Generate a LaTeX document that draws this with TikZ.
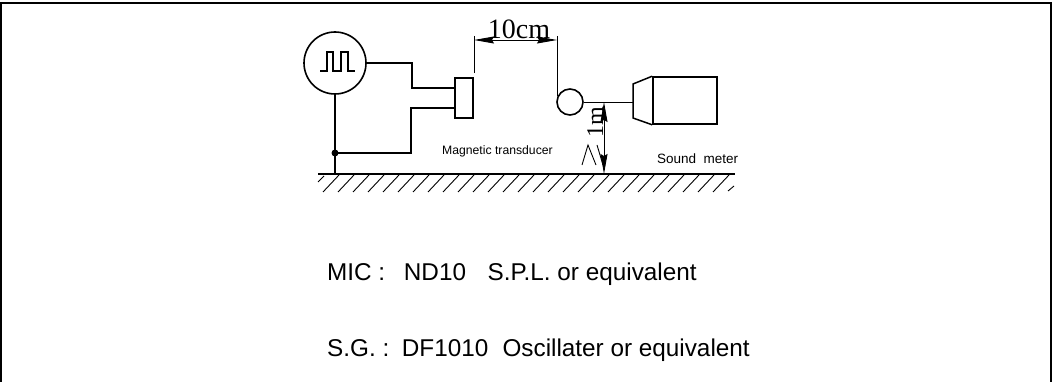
\documentclass[tikz,border=0pt]{standalone}
\usepackage{fontspec}
\setmainfont{Liberation Sans}
\newfontfamily\dimfont{Liberation Serif}
\usetikzlibrary{arrows.meta}

\tikzset{
  wire/.style={line width=1.5pt},
  thin wire/.style={line width=0.9pt},
  device/.style={draw, line width=1.6pt, inner sep=0pt},
  dim arrow/.style={thin wire, {Stealth[length=20pt,width=7pt,inset=2pt]}-{Stealth[length=20pt,width=7pt,inset=2pt]}},
  label small/.style={inner sep=0pt, anchor=west},
  label big/.style={inner sep=0pt, anchor=base west, font=\fontsize{24.3}{24.3}\selectfont},
  dim label/.style={inner sep=0pt, font=\dimfont\fontsize{24}{24}\selectfont}
}

\begin{document}
\begin{tikzpicture}[x=1pt, y=-1pt, >=stealth]

\useasboundingbox (0,0) rectangle (1053,382);

% frame, open at the bottom
\coordinate (frame-a) at (1,382);
\coordinate (frame-b) at (1,3);
\coordinate (frame-c) at (1051,3);
\coordinate (frame-d) at (1051,382);
\draw [line width=2pt] (frame-a) -- (frame-b) -- (frame-c) -- (frame-d);

% ground
\coordinate (ground-l) at (318,174);
\coordinate (ground-r) at (735,174);
\coordinate (ground-j) at (335,174);
\draw [wire] (ground-l) -- (ground-r);
\draw [line width=2.5pt] (ground-l) -- (ground-j);
\draw [thin wire] (318,182) -- (324,176);
\foreach \x in {0,...,26}
  \draw [thin wire] (323+\x*15,192) -- (339+\x*15,175);
\draw [thin wire] (728,191) -- (734,186);

% signal generator
\node [device, circle, minimum size=62pt] (gen) at (335,63) {};
\draw [wire] (320,71) -- (327,71) -- (327,52) -- (333,52) -- (333,71)
  -- (341,71) -- (341,52) -- (348,52) -- (348,71) -- (355,71);

% transducer
\node [device, minimum width=18pt, minimum height=40pt] (trans) at (464,98) {};
\coordinate (trans-1) at (455,88);
\coordinate (trans-2) at (455,108);
\coordinate (junction) at (335,153);
\draw [wire] (gen.east) -- (412,63) -- (412,88) -- (trans-1);
\draw [wire] (trans-2) -- (411,108) -- (411,153) -- (junction);
\draw [wire] (gen.south) -- (ground-j);
\fill (junction) circle (3.5pt);

% microphone and meter
\node [device, circle, minimum size=26pt] (mic) at (570,102) {};
\coordinate (meter-in) at (633,102);
\draw [thin wire] (mic.east) -- (meter-in);
\node [device, minimum width=64pt, minimum height=47pt] (meter) at (685,100.5) {};
\draw [wire] (meter.north west) -- (633,84) -- (633,118) -- (meter.south west);

% distance 10cm
\coordinate (ext-a1) at (474,36);
\coordinate (ext-a2) at (474,73);
\coordinate (ext-b1) at (557,36);
\coordinate (ext-b2) at (557,96);
\coordinate (dim-a) at (474,40);
\coordinate (dim-b) at (557,40);
\draw [thin wire] (ext-a1) -- (ext-a2);
\draw [thin wire] (ext-b1) -- (ext-b2);
\draw [dim arrow] (dim-a) -- (dim-b);
\node [dim label, font=\dimfont\fontsize{28}{28}\selectfont, anchor=base] (dist) at (519,39) {10cm};

% height 1m
\coordinate (dim-c) at (604,102);
\coordinate (dim-d) at (604,174);
\draw [dim arrow] (dim-c) -- (dim-d);
\node [dim label, rotate=90, anchor=base] (height) at (603,122) {1m};
\draw [thin wire] (582,165) -- (588,145) -- (596,165);
\draw [thin wire] (597,145) -- (603,165);

% labels
\node [label small, font=\fontsize{12.2}{12.2}\selectfont] (trans-label) at (442,151) {Magnetic transducer};
\node [label small, font=\fontsize{13.5}{13.5}\selectfont] (meter-label) at (657,159) {Sound\ \ meter};
\node [label big] (mic-label) at (327,280) {MIC :\hspace{18.7pt}ND10\hspace{21.6pt}S.P.L. or equivalent};
\node [label big] (sg-label) at (327,356) {S.G. :\hspace{12.6pt}DF1010\hspace{14.2pt}Oscillater or equivalent};

\end{tikzpicture}
\end{document}
